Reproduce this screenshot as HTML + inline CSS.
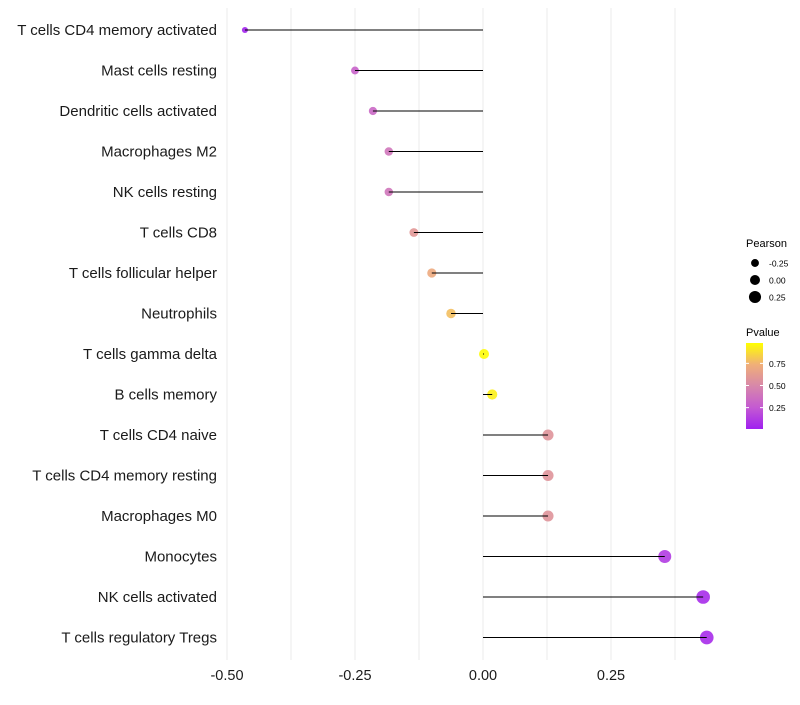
<!DOCTYPE html>
<html><head><meta charset="utf-8"><style>
body{margin:0;background:#fff;}
svg{font-family:"Liberation Sans",sans-serif;}
</style></head><body>
<svg id="chart" width="800" height="700"></svg>
<script>
const categories=["T cells CD4 memory activated","Mast cells resting","Dendritic cells activated","Macrophages M2","NK cells resting","T cells CD8","T cells follicular helper","Neutrophils","T cells gamma delta","B cells memory","T cells CD4 naive","T cells CD4 memory resting","Macrophages M0","Monocytes","NK cells activated","T cells regulatory  Tregs"];
const pearson=[-0.465,-0.25,-0.215,-0.184,-0.184,-0.135,-0.10,-0.0625,0.002,0.018,0.127,0.127,0.127,0.355,0.43,0.437];
const pvalues=[0.02,0.30,0.33,0.40,0.40,0.60,0.72,0.80,0.99,0.95,0.58,0.58,0.58,0.12,0.05,0.05];
const xTicks=[-0.5,-0.25,0,0.25];
const xTickLabels=["-0.50","-0.25","0.00","0.25"];
const legendSizes=[-0.25,0,0.25];
const legendSizeLabels=["-0.25","0.00","0.25"];
const colorTicks=[0.25,0.5,0.75];
const colorTickLabels=["0.25","0.50","0.75"];

const NS="http://www.w3.org/2000/svg";
const svg=document.getElementById('chart');
function mk(t,a,p){const e=document.createElementNS(NS,t);for(const k in a)e.setAttribute(k,a[k]);(p||svg).appendChild(e);return e;}
const x=v=>483+v*512;
const y=i=>30+i*40.5;
const r=v=>Math.max(1.5,5+4.2*v);
const stops=[[0,[160,32,240]],[0.25,[196,90,210]],[0.5,[215,135,170]],[0.75,[240,175,120]],[1,[255,255,0]]];
function col(p){for(let i=1;i<stops.length;i++){if(p<=stops[i][0]){const a=stops[i-1],b=stops[i];const t=(p-a[0])/(b[0]-a[0]);const c=a[1].map((v,k)=>Math.round(v+(b[1][k]-v)*t));return `rgb(${c})`;}}return 'rgb(255,255,0)';}
const grid=mk('g',{});


for(let v=-0.5;v<=0.38;v+=0.125){mk('line',{x1:x(v),x2:x(v),y1:8,y2:660,stroke:'#ebebeb','stroke-width':1},grid);}
categories.forEach((c,i)=>{
  const t=mk('text',{x:217,y:y(i)+5,'text-anchor':'end','font-size':15,fill:'#1a1a1a'});
  t.textContent=c;
  
  
  const pt=mk('circle',{cx:x(pearson[i]),cy:y(i),r:r(pearson[i]),fill:col(pvalues[i]),'fill-opacity':0.9});
  
  
  const ln=mk('line',{x1:x(0),x2:x(pearson[i]),y1:y(i),y2:y(i),stroke:'#000','stroke-width':1});
  
  
});
xTicks.forEach((v,i)=>{const t=mk('text',{x:x(v),y:680,'text-anchor':'middle','font-size':14.5,fill:'#1a1a1a'});t.textContent=xTickLabels[i];

});
const lt=mk('text',{x:746,y:247,'font-size':11,fill:'#000'});lt.textContent='Pearson';


legendSizes.forEach((v,i)=>{const cy=263+i*17;mk('circle',{cx:755,cy:cy,r:r(v),fill:'#000'});
const t=mk('text',{x:769,y:cy+3.5,'font-size':8.5,fill:'#000'});t.textContent=legendSizeLabels[i];

});
const ct=mk('text',{x:746,y:336,'font-size':11,fill:'#000'});ct.textContent='Pvalue';


const defs=mk('defs',{});const g=mk('linearGradient',{id:'cg',x1:0,y1:1,x2:0,y2:0},defs);
stops.forEach(s=>mk('stop',{offset:s[0],'stop-color':`rgb(${s[1]})`},g));
const bar=mk('rect',{x:746,y:343,width:17,height:86,fill:'url(#cg)'});


const cy=p=>428-(p-0.02)/0.96*85;
colorTicks.forEach((p,i)=>{mk('line',{x1:746,x2:749,y1:cy(p),y2:cy(p),stroke:'#fff'});mk('line',{x1:760,x2:763,y1:cy(p),y2:cy(p),stroke:'#fff'});
const t=mk('text',{x:769,y:cy(p)+3.5,'font-size':8.5,fill:'#000'});t.textContent=colorTickLabels[i];

});
</script>
</body></html>
